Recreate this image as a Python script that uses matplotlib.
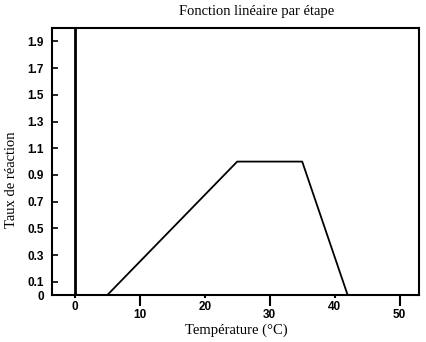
import matplotlib.pyplot as plt

# piecewise linear rate curve
temp = [5, 25, 35, 42]
rate = [0, 1.0, 1.0, 0]

ytick_vals = [0, 0.1, 0.3, 0.5, 0.7, 0.9, 1.1, 1.3, 1.5, 1.7, 1.9]
ytick_labels = ["0", "0.1", "0.3", "0.5", "0.7", "0.9", "1.1", "1.3", "1.5", "1.7", "1.9"]
xtick_low = [10, 30, 50]
xtick_high = [0, 20, 40]

serif = "Liberation Serif"
sans = "Liberation Sans"
tick_font = dict(fontfamily=sans, fontsize=8.5, fontweight="bold")

fig = plt.figure(figsize=(4.26, 3.42), dpi=100)
ax = fig.add_axes([0.122, 0.137, 0.862, 0.781])

ax.plot(temp, rate, color="black", lw=1.3)
ax.axvline(0, color="black", lw=2)

ax.set_xlim(-3.5, 53)
ax.set_ylim(0, 2.0)

ax.set_yticks(ytick_vals)
ax.set_yticklabels(ytick_labels, **tick_font)
ax.tick_params(axis="y", direction="in", length=4, width=1.2, pad=6)

ax.set_xticks(xtick_low)
ax.set_xticklabels([str(v) for v in xtick_low], **tick_font)
ax.set_xticks(xtick_high, minor=True)
ax.set_xticklabels([str(v) for v in xtick_high], minor=True, **tick_font)
ax.tick_params(axis="x", which="major", direction="out", length=8, width=1.5, pad=2)
ax.tick_params(axis="x", which="minor", direction="out", length=2, width=1.5, pad=2)

for s in ax.spines.values():
    s.set_linewidth(1.5)

fig.text(0.603, 0.965, "Fonction linéaire par étape", fontfamily=serif, fontsize=10.5,
         ha="center", va="center")
fig.text(0.554, 0.035, "Température (°C)", fontfamily=serif, fontsize=10.5,
         ha="center", va="center")
fig.text(0.028, 0.475, "Taux de réaction", fontfamily=serif, fontsize=10.5,
         ha="center", va="center", rotation=90)

fig.savefig("out.png", dpi=100)
